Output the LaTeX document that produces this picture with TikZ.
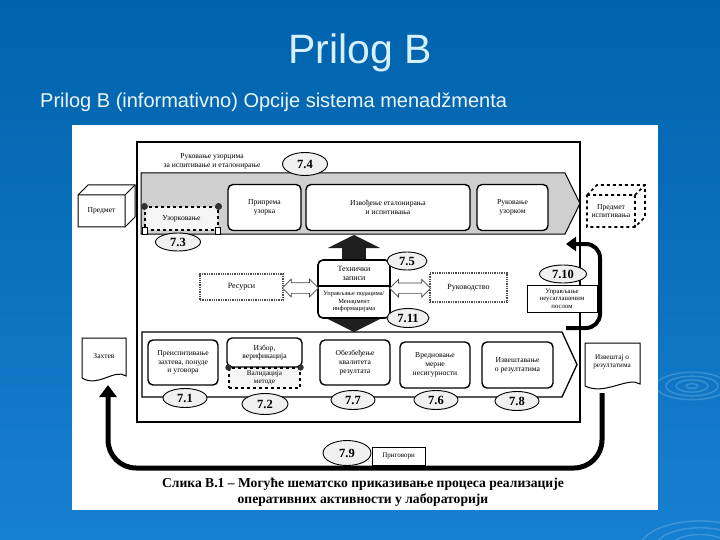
\documentclass[tikz,border=0pt]{standalone}
\usepackage{fontspec}
\setmainfont{Liberation Serif}
\newfontfamily\arialf{Liberation Sans}
\usetikzlibrary{shapes.geometric,shapes.arrows,arrows.meta,calc}
\definecolor{bgtop}{RGB}{0,98,172}
\definecolor{bgbot}{RGB}{22,128,208}
\definecolor{titlec}{RGB}{214,240,255}
\definecolor{subc}{RGB}{238,247,255}
\tikzset{
  box/.style={draw, line width=1.4pt, rounded corners=5pt, fill=white, align=center,
    font=\fontsize{7.6}{8.7}\selectfont, inner sep=1pt},
  scroll/.style={draw, dashed, line width=1.1pt, fill=gray!8, align=center,
    font=\fontsize{7.6}{8.7}\selectfont, inner sep=1pt},
  num/.style={ellipse, draw, line width=0.9pt, fill=gray!12, inner sep=0pt,
    font=\bfseries\fontsize{12.5}{13}\selectfont},
  lbl/.style={align=center, font=\fontsize{7.6}{8.7}\selectfont, inner sep=0pt},
  dotbox/.style={draw=gray!60!black, densely dotted, line width=1.3pt, fill=white,
    font=\fontsize{8}{9}\selectfont, inner sep=1pt},
  dbl/.style={double arrow, draw=gray!55!black, fill=white, line width=0.7pt,
    double arrow head extend=3.5pt, inner xsep=0pt, inner ysep=5pt},
  blockarr/.style={line width=24pt, draw=black!88, -{Triangle[length=13pt,width=52pt]}},
  loopline/.style={line width=5pt, rounded corners=28pt, -{Triangle[length=12pt,width=17pt]}},
  docst/.style={draw, line width=1pt, fill=white},
}
\begin{document}
\begin{tikzpicture}[x=1pt,y=-1pt]
\useasboundingbox (0,0) rectangle (720,540);
% slide background
\shade[top color=bgtop, bottom color=bgbot] (0,0) rectangle (720,540);
\begin{scope}[white, opacity=0.18, line width=1.4pt]
  \foreach \r in {6,16,26,36} \draw (692,386) ellipse ({\r pt} and {0.38*\r pt});
  \foreach \r in {30,45,60} \draw (700,548) ellipse ({\r pt} and {0.45*\r pt});
\end{scope}
% title and subtitle
\node[anchor=base, inner sep=0pt, font=\arialf\fontsize{41}{41}\selectfont, text=titlec] (title) at (360,64) {Prilog B};
\node[anchor=base west, inner sep=0pt, font=\arialf\fontsize{20}{20}\selectfont, text=subc] (sub) at (40,108) {Prilog B (informativno) Opcije sistema menadžmenta};
% picture area
\fill[white] (72,125) rectangle (658,510);
% outer frame
\draw[line width=1.3pt] (137,142) rectangle (580,422);
% top process band
\draw[line width=1pt, fill=gray!38] (141,173) -- (565,173) -- (580,203.5) -- (565,234) -- (141,234) -- cycle;
\node[lbl] (toplbl) at (212,161) {Руковање узорцима\\за испитивање и еталонирање};
\node[box, minimum width=73pt, minimum height=46pt] (pripr) at (264.5,207.5) {Припрема\\узорка};
\node[box, minimum width=164pt, minimum height=46pt] (izvo) at (388,207.5) {Извођење еталонирања\\и испитивања};
\node[box, minimum width=71pt, minimum height=46pt] (rukuz) at (512.5,207.5) {Руковање\\узорком};
\node[scroll, minimum width=73pt, minimum height=23pt] (uzo) at (181.5,218.5) {Узорковање};
\fill[black!80] (uzo.north west) circle (3.5pt) (uzo.north east) circle (3.5pt);
\draw[line width=0.8pt, fill=white] ([xshift=-2pt,yshift=3pt]uzo.south west) rectangle ([xshift=3pt,yshift=-4pt]uzo.south west);
\draw[line width=0.8pt, fill=white] ([xshift=2pt,yshift=3pt]uzo.south east) rectangle ([xshift=-3pt,yshift=-4pt]uzo.south east);
\node[num, minimum width=45pt, minimum height=23pt] (n74) at (305,164) {7.4};
\node[num, minimum width=45pt, minimum height=18pt] (n73) at (178,242) {7.3};
% object boxes
\draw[line width=1pt, fill=white] (78,195) -- (88,185) -- (135,185) -- (135,217) -- (125,227) -- (78,227) -- cycle;
\draw[line width=1pt] (78,195) -- (125,195) -- (125,227) (125,195) -- (135,185);
\node[lbl] (pred) at (101.5,211) {Предмет};
\draw[line width=1.6pt, dashed] (587,195) -- (597,185) -- (645,185) -- (645,217) -- (635,227) -- (587,227) -- cycle;
\draw[line width=1.6pt, dashed] (587,195) -- (635,195) -- (635,227) (635,195) -- (645,185);
\node[lbl] (predisp) at (611,211) {Предмет\\испитивања};
% middle area
\node[draw, line width=1.6pt, rounded corners=5pt, fill=white, minimum width=72pt, minimum height=58pt] (tech) at (354,289) {};
\draw[line width=1.2pt] (tech.west |- 0,286) -- (tech.east |- 0,286);
\node[lbl, font=\fontsize{8}{9.4}\selectfont] (techa) at (354,273.5) {Технички\\записи};
\node[lbl, font=\fontsize{6.4}{7.5}\selectfont] (techb) at (354,302) {Управљање подацима/\\Менаџмент\\информацијама};
\coordinate (upT) at (354,235);
\coordinate (dnT) at (354,332);
\draw[blockarr] (tech.north) -- (upT);
\draw[blockarr] (tech.south) -- (dnT);
\node[num, minimum width=40pt, minimum height=18pt] (n75) at (407,261) {7.5};
\node[num, minimum width=42pt, minimum height=19pt] (n711) at (408,318) {7.11};
\node[dotbox, minimum width=83pt, minimum height=26pt] (res) at (241.5,287) {Ресурси};
\node[dotbox, minimum width=77pt, minimum height=29pt] (rukov) at (468.5,287.5) {Руководство};
\node[dbl, minimum height=36pt] (da1) at ($(res.east)!0.5!(tech.west)$) {};
\node[dbl, minimum height=41pt] (da2) at ($(tech.east)!0.5!(rukov.west)$) {};
% lower process band
\draw[line width=1.3pt, fill=white] (142,332) -- (562,332) -- (577,364.5) -- (562,397) -- (142,397) -- cycle;
\node[box, minimum width=70pt, minimum height=45pt] (b71) at (183,362.5) {Преиспитивање\\захтева, понуде\\и уговора};
\node[box, minimum width=75pt, minimum height=29pt] (b72) at (264.5,352.5) {Избор,\\верификација};
\node[scroll, minimum width=71pt, minimum height=20pt, font=\fontsize{7.2}{8.2}\selectfont] (val) at (264.5,378) {Валидација\\методе};
\fill[black!80] (val.north west) circle (3.2pt) (val.north east) circle (3.2pt);
\node[box, minimum width=70pt, minimum height=45pt] (b77) at (355,362.5) {Обезбеђење\\квалитета\\резултата};
\node[box, minimum width=70pt, minimum height=46pt] (b76) at (435,365) {Вредновање\\мерне\\несигурности};
\node[box, minimum width=71pt, minimum height=46pt] (b78) at (517.5,365) {Извештавање\\о резултатима};
\node[num, minimum width=44pt, minimum height=19pt] (n71) at (185,398) {7.1};
\node[num, minimum width=46pt, minimum height=21pt] (n72) at (265,404) {7.2};
\node[num, minimum width=44pt, minimum height=19pt] (n77) at (353,400) {7.7};
\node[num, minimum width=44pt, minimum height=19pt] (n76) at (436,400) {7.6};
\node[num, minimum width=44pt, minimum height=19pt] (n78) at (517,401) {7.8};
% nonconforming work and return arrow
\coordinate (rs) at (566,328);
\coordinate (re) at (566,244);
\coordinate (rx) at (600,300);
\draw[line width=4pt, rounded corners=14pt, -{Triangle[length=10pt,width=14pt]}] (rs) -- (rs -| rx) -- (re -| rx) -- (re);
\node[draw, line width=0.8pt, fill=white, align=center, minimum width=70pt, minimum height=27pt, inner sep=0pt, font=\fontsize{6.8}{7.6}\selectfont] (neus) at (562,298.5) {Управљање\\неусаглашеним\\послом};
\node[num, minimum width=47pt, minimum height=18pt] (n710) at (563,274) {7.10};
% documents
\draw[docst] (82,338) -- (126,338) -- (126,376) .. controls (115,368) and (98,388) .. (82,378) -- cycle;
\node[lbl] (zah) at (104,356) {Захтев};
\draw[docst] (585,343) -- (640,343) -- (640,384) .. controls (628,376) and (605,396) .. (585,386) -- cycle;
\node[lbl, font=\fontsize{7.2}{8.2}\selectfont] (izv) at (612,362) {Извештај о\\резултатима};
% big loop
\coordinate (izvb) at (602,393);
\coordinate (zahb) at (108,385);
\coordinate (bot) at (300,468);
\draw[loopline] (izvb) -- (izvb |- bot) -- (zahb |- bot) -- (zahb);
\node[num, minimum width=48pt, minimum height=25pt] (n79) at (347,453) {7.9};
\node[draw, line width=0.8pt, fill=white, minimum width=53pt, minimum height=18pt, inner sep=0pt, font=\fontsize{7}{8}\selectfont] (prig) at (398.5,456) {Приговори};
% caption
\node[anchor=base, inner sep=0pt, font=\bfseries\fontsize{13.6}{15}\selectfont] (cap1) at (363,487) {Слика В.1 – Могуће шематско приказивање процеса реализације};
\node[anchor=base, inner sep=0pt, font=\bfseries\fontsize{13.6}{15}\selectfont] (cap2) at (363,503) {оперативних активности у лабораторији};
\end{tikzpicture}
\end{document}
